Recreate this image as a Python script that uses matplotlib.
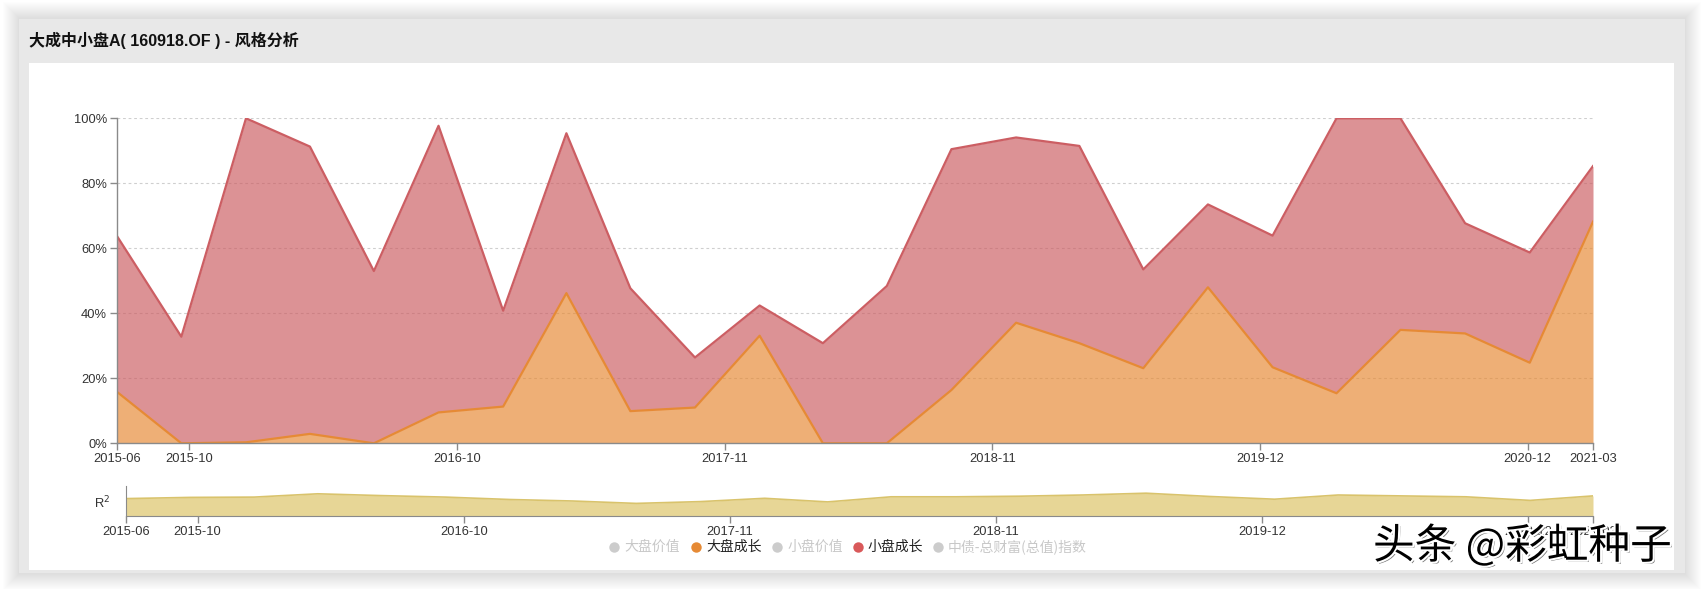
import matplotlib
matplotlib.use('Agg')
import matplotlib.pyplot as plt
import matplotlib.patheffects as pe
from matplotlib.patches import Rectangle
import numpy as np
import pandas as pd

# ---------------- data ----------------
title = '大成中小盘A( 160918.OF ) - 风格分析'
dates = ['2015-06-30', '2015-09-30', '2015-12-31', '2016-03-31', '2016-06-30', '2016-09-30',
         '2016-12-31', '2017-03-31', '2017-06-30', '2017-09-30', '2017-12-31', '2018-03-31',
         '2018-06-30', '2018-09-30', '2018-12-31', '2019-03-31', '2019-06-30', '2019-09-30',
         '2019-12-31', '2020-03-31', '2020-06-30', '2020-09-30', '2020-12-31', '2021-03-31']
large_growth = [15.9, 0.0, 0.3, 2.9, 0.0, 9.5, 11.3, 46.2, 9.9, 11.0, 33.1, 0.0,
                0.0, 16.4, 37.1, 30.8, 23.1, 48.0, 23.4, 15.4, 34.9, 33.8, 24.8, 68.2]
small_growth = [48.0, 32.8, 99.7, 88.4, 53.0, 88.2, 29.5, 49.2, 37.8, 15.4, 9.3, 30.8,
                48.4, 74.1, 57.0, 60.7, 30.4, 25.5, 40.5, 84.6, 65.1, 33.9, 33.9, 17.1]
r_squared = [0.58, 0.62, 0.63, 0.74, 0.68, 0.63, 0.55, 0.50, 0.42, 0.48, 0.59, 0.47,
             0.64, 0.64, 0.66, 0.70, 0.76, 0.65, 0.56, 0.70, 0.67, 0.64, 0.52, 0.67]
tick_dates = ['2015-06-30', '2015-10-11', '2016-10-26', '2017-11-11', '2018-11-27',
              '2019-12-13', '2020-12-28', '2021-03-31']
tick_labels = ['2015-06', '2015-10', '2016-10', '2017-11', '2018-11', '2019-12', '2020-12', '2021-03']
y_ticks = [0, 20, 40, 60, 80, 100]
legend_labels = ['大盘价值', '大盘成长', '小盘价值', '小盘成长', '中债-总财富(总值)指数']
legend_active = [False, True, False, True, False]
watermark = '头条 @彩虹种子'

# ---------------- style ----------------
FONT = ['Liberation Sans', 'Noto Sans CJK SC', 'DejaVu Sans']
CJK = ['Noto Sans CJK SC', 'DejaVu Sans']
plt.rcParams['font.family'] = FONT
ORANGE = '#E68A35'
RED = '#CC5E63'
AXIS = '#8a8a8a'
TXT = '#333333'

W, H = 1704, 589
fig = plt.figure(figsize=(W / 100, H / 100), dpi=100)
fig.patch.set_facecolor('white')


def fx(x):
    return x / W


def fy(y):
    return 1 - y / H


# soft shadow around the card
for i in range(16, 0, -1):
    fig.add_artist(Rectangle((fx(19 - i), fy(574 + i)), fx(1666 + 2 * i), (556 + 2 * i) / H,
                             transform=fig.transFigure, facecolor='black', alpha=0.007,
                             edgecolor='none', zorder=0))
# card
fig.add_artist(Rectangle((fx(18), fy(573)), fx(1667), 555 / H, transform=fig.transFigure,
                         facecolor='#e8e8e8', edgecolor='#dedede', lw=0.6, zorder=1))
fig.add_artist(Rectangle((fx(29), fy(570)), fx(1645), 507 / H, transform=fig.transFigure,
                         facecolor='white', edgecolor='none', zorder=2))
fig.text(fx(29), fy(40), title, fontsize=11.5, fontweight='bold', color='#111111',
         va='center', ha='left', family=FONT, zorder=3)

x = pd.to_datetime(dates)
lg = np.array(large_growth)
top = lg + np.array(small_growth)
tx = pd.to_datetime(tick_dates)

# ---------------- main chart ----------------
ax = fig.add_axes([fx(116.7), fy(443.3), fx(1593) - fx(116.7), fy(118.3) - fy(443.3)])
ax.set_zorder(5)
ax.patch.set_alpha(0)
for yv in y_ticks[1:]:
    ax.axhline(yv, color='#cfcfcf', lw=0.8, ls=(0, (2.5, 2.5)), zorder=0)
ax.fill_between(x, 0, lg, color=ORANGE, alpha=0.68, lw=0, zorder=1)
ax.fill_between(x, lg, top, color=RED, alpha=0.68, lw=0, zorder=1)
ax.plot(x, lg, color=ORANGE, lw=1.6, zorder=2)
ax.plot(x, top, color=RED, lw=1.6, zorder=2)
ax.set_xlim(x[0], x[-1])
ax.set_ylim(0, 100)
for s in ['top', 'right']:
    ax.spines[s].set_visible(False)
for s in ['left', 'bottom']:
    ax.spines[s].set_color(AXIS)
    ax.spines[s].set_linewidth(1.0)
ax.set_yticks(y_ticks)
ax.set_yticklabels([f'{v}%' for v in y_ticks])
ax.set_xticks(tx)
ax.set_xticklabels(tick_labels)
ax.tick_params(axis='both', colors=AXIS, labelcolor=TXT, labelsize=9.3, length=5, width=1.0)
ax.tick_params(axis='x', pad=2)
ax.tick_params(axis='y', pad=2)

# ---------------- R² chart ----------------
ax2 = fig.add_axes([fx(125.7), fy(516), fx(1593) - fx(125.7), fy(486) - fy(516)])
ax2.set_zorder(5)
ax2.patch.set_alpha(0)
ax2.fill_between(x, 0, r_squared, color='#E6D490', lw=0, alpha=0.95)
ax2.plot(x, r_squared, color='#D9C36C', lw=1.2)
ax2.set_xlim(x[0], x[-1])
ax2.set_ylim(0, 1)
for s in ['top', 'right']:
    ax2.spines[s].set_visible(False)
ax2.spines['left'].set_color(AXIS)
ax2.spines['bottom'].set_color(AXIS)
ax2.set_yticks([])
ax2.set_xticks(tx)
ax2.set_xticklabels(tick_labels)
ax2.tick_params(axis='x', colors=AXIS, labelcolor=TXT, labelsize=9.3, length=5, width=1.0, pad=2)
fig.text(fx(110), fy(503), 'R$^2$', fontsize=9.3, color=TXT, ha='right', va='center')

# ---------------- legend ----------------
dot_x = [614, 696, 777, 858, 938]
act_colors = {1: ORANGE, 3: '#D9595A'}
for i, lab in enumerate(legend_labels):
    c_dot = act_colors.get(i, '#cccccc') if legend_active[i] else '#cccccc'
    c_txt = '#222222' if legend_active[i] else '#c8c8c8'
    fig.add_artist(plt.Line2D([fx(dot_x[i])], [fy(547)], marker='o', markersize=7.5,
                              color=c_dot, markeredgewidth=0, transform=fig.transFigure, zorder=6))
    fig.text(fx(dot_x[i] + 10), fy(547), lab, fontsize=10, color=c_txt, ha='left',
             va='center', family=CJK, zorder=6)

# ---------------- watermark ----------------
fig.text(fx(1373), fy(546), watermark, fontsize=30, color='black', ha='left', va='center',
         family=CJK, zorder=10,
         path_effects=[pe.withSimplePatchShadow(offset=(1.5, -1.5), shadow_rgbFace='#555555', alpha=0.8),
                       pe.withStroke(linewidth=3, foreground='white')])

fig.savefig('out.png', dpi=100, facecolor='white')
